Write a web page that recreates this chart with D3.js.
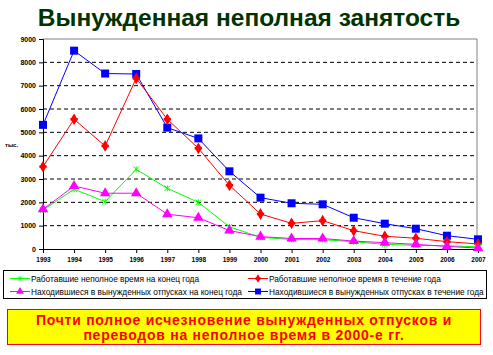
<!DOCTYPE html>
<html><head><meta charset="utf-8">
<script src="https://cdn.jsdelivr.net/npm/d3@7"></script>
<style>body{margin:0;background:#fff}svg{display:block;font-family:Arial,"Liberation Sans",sans-serif}</style>
</head><body><svg id="c" width="493" height="355"></svg>
<script>
const years = [1993,1994,1995,1996,1997,1998,1999,2000,2001,2002,2003,2004,2005,2006,2007];
const greenEnd = [1670,2560,2030,3415,2600,2000,950,500,410,400,310,200,155,140,90];
const redYear = [3530,5560,4415,7315,5560,4315,2730,1500,1100,1215,785,545,460,315,215];
const magentaEnd = [1700,2700,2390,2390,1490,1340,790,530,450,450,340,270,200,110,40];
const blueYear = [5320,8500,7520,7500,5200,4740,3330,2200,1960,1915,1340,1085,870,570,415];
const yTicks = [0,1000,2000,3000,4000,5000,6000,7000,8000,9000];
const title = "Вынужденная неполная занятость";
const yLabel = "тыс.";
const legendLabels = ["Работавшие неполное время на  конец года","Работавшие неполное время в течение года","Находившиеся в вынужденных отпусках на конец года","Находившиеся в вынужденных отпусках в течение года"];
const noteLines = ["Почти полное исчезновение вынужденных отпусков и","переводов на неполное время в 2000-е гг."];

const svg = d3.select("#c");
const L=43,R=478,T=39,B=249;
const x = d3.scalePoint().domain(years).range([L,R]);
const y = d3.scaleLinear().domain([0,9000]).range([B,T]);

svg.append("text").attr("x",249).attr("y",26).attr("text-anchor","middle")
  .attr("font-size",24.5).attr("font-weight","bold").attr("fill","#003300").text(title);

// grid
svg.append("g").selectAll("line").data(yTicks.filter(d=>d>0&&d<9000)).join("line")
  .attr("x1",L).attr("x2",477).attr("y1",d=>y(d)).attr("y2",d=>y(d))
  .attr("stroke","#000").attr("stroke-dasharray","4,3").attr("stroke-width",1);
// frame top/right
svg.append("path").attr("d",`M${L},${y(9000)}H477V${B}`).attr("fill","none").attr("stroke","#808080").attr("stroke-width",1);

const ya = svg.append("g").attr("transform",`translate(${L},0)`)
  .call(d3.axisLeft(y).tickValues(yTicks).tickSize(4).tickPadding(3).tickFormat(d3.format("d")));
ya.selectAll("text").attr("font-size",7).attr("font-weight","bold").attr("font-family","Arial");
ya.select(".domain").attr("stroke","#000");
const xa = svg.append("g").attr("transform",`translate(0,${B})`)
  .call(d3.axisBottom(x).tickSize(4).tickPadding(4).tickFormat(d3.format("d")));
xa.selectAll("text").attr("font-size",6.5).attr("font-weight","bold").attr("font-family","Arial");
xa.select(".domain").attr("stroke","#000");

svg.append("text").attr("x",5).attr("y",147).attr("font-size",6).attr("font-weight","bold").text(yLabel);

const series = [
  {v:greenEnd,c:"#00ff00",m:"star"},
  {v:redYear,c:"#ff0000",m:"diamond"},
  {v:magentaEnd,c:"#ff00ff",m:"tri"},
  {v:blueYear,c:"#0000ff",m:"square"}
];
const line = d3.line().x((d,i)=>x(years[i])).y(d=>y(d));
function marker(g,m,c,s){
  if(m==="square") g.append("path").attr("d",d3.symbol(d3.symbolSquare,64*s)()).attr("fill",c);
  else if(m==="tri") g.append("path").attr("d",d3.symbol(d3.symbolTriangle,48*s)()).attr("fill",c);
  else if(m==="diamond"){ g.append("path").attr("d",d3.symbol(d3.symbolDiamond,40*s)()).attr("fill",c);
    g.append("path").attr("d",d3.symbol(d3.symbolCross,30*s)()).attr("fill",c);}
  else { g.append("path").attr("d",d3.symbol(d3.symbolTimes,22*s)()).attr("fill","none").attr("stroke",c).attr("stroke-width",1);
    g.append("line").attr("y1",-3*Math.sqrt(s)).attr("y2",3*Math.sqrt(s)).attr("stroke",c);}
}
// draw order: blue, red, green, magenta
[3,1,0,2].forEach(k=>{
  const s=series[k];
  svg.append("path").datum(s.v).attr("d",line).attr("fill","none").attr("stroke",s.c).attr("stroke-width",1);
  s.v.forEach((d,i)=>{ const g=svg.append("g").attr("transform",`translate(${x(years[i])},${y(d)})`); marker(g,s.m,s.c,1);});
});

// legend
svg.append("rect").attr("x",3.5).attr("y",270.5).attr("width",483).attr("height",28).attr("fill","#fff").attr("stroke","#000");
const legPos=[[10,279],[248,279],[10,292],[248,292]];
legendLabels.forEach((t,i)=>{
  const [lx,ly]=legPos[i]; const s=series[i];
  svg.append("line").attr("x1",lx).attr("x2",lx+20).attr("y1",ly-0.5).attr("y2",ly-0.5).attr("stroke",s.c);
  marker(svg.append("g").attr("transform",`translate(${lx+10},${ly-0.5})`),s.m,s.c,0.55);
  svg.append("text").attr("x",lx+21).attr("y",ly+3).attr("font-size",8.3).attr("fill","#000").text(t);
});

// note box
svg.append("rect").attr("x",7.5).attr("y",309.5).attr("width",473).attr("height",35).attr("fill","#ffff00").attr("stroke","#ff0000").attr("stroke-width",1);
noteLines.forEach((t,i)=>svg.append("text").attr("x",244).attr("y",325+i*15).attr("text-anchor","middle")
  .attr("font-size",14).attr("letter-spacing",0.75).attr("font-weight","bold").attr("fill","#ff0000").text(t));
</script></body></html>
